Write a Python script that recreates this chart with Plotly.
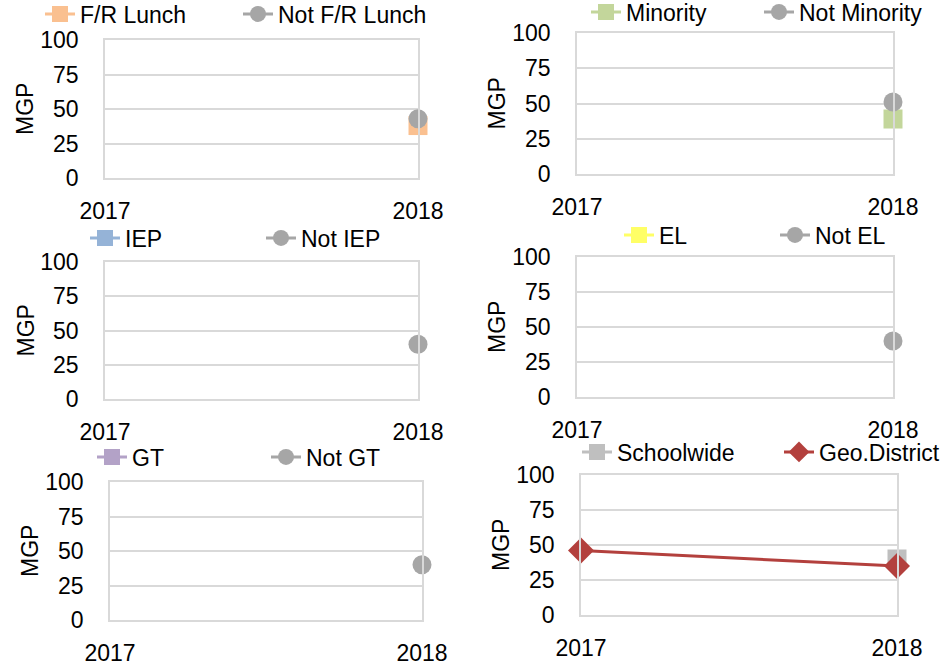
import plotly.graph_objects as go

# Data
years = [2017, 2018]
y_ticks = [0, 25, 50, 75, 100]

fr_lunch = [None, 38]
not_fr_lunch = [None, 43]
minority = [None, 39]
not_minority = [None, 51]
iep = [None, None]
not_iep = [None, 40]
el = [None, None]
not_el = [None, 40]
gt = [None, None]
not_gt = [None, 40]
schoolwide = [None, 40]
geo_district = [46, 35]

W, H = 948, 666
FONT = "Liberation Sans, Arial"
FS = 23
GRAY = "#A6A6A6"
GRID = "#D9D9D9"


def px(x):
    return x / W


def py(y):
    return 1 - y / H


# panel boxes in screen pixels: (left, right, top, bottom)
panels = [
    (105, 418, 40, 178),
    (577, 893, 33, 174),
    (105, 418, 262, 399),
    (577, 893, 257, 397),
    (110, 422, 482, 620),
    (581, 897, 475, 615),
]
# legend placement: (x where first label starts, y centre, label-to-label spacing)
legend_pos = [
    (80, 14, 198),
    (626, 12, 173),
    (125, 238, 176),
    (659, 235, 156),
    (132, 457, 174),
    (617, 452, 202),
]

series = [
    [("F/R Lunch", fr_lunch, "#FAC090", "square"), ("Not F/R Lunch", not_fr_lunch, GRAY, "circle")],
    [("Minority", minority, "#C3D69B", "square"), ("Not Minority", not_minority, GRAY, "circle")],
    [("IEP", iep, "#95B3D7", "square"), ("Not IEP", not_iep, GRAY, "circle")],
    [("EL", el, "#FFFF66", "square"), ("Not EL", not_el, GRAY, "circle")],
    [("GT", gt, "#B3A2C7", "square"), ("Not GT", not_gt, GRAY, "circle")],
    [("Schoolwide", schoolwide, "#BFBFBF", "square"), ("Geo.District", geo_district, "#B3403D", "diamond")],
]

fig = go.Figure()
layout = {}
annotations = []

for i, (box, pos, traces) in enumerate(zip(panels, legend_pos, series)):
    n = "" if i == 0 else str(i + 1)
    left, right, top, bottom = box
    for name, vals, color, sym in traces:
        fig.add_trace(go.Scatter(
            x=years, y=vals, name=name, mode="lines+markers",
            line=dict(color=color, width=3),
            marker=dict(color=color, symbol=sym, size=19 if sym != "diamond" else 20),
            xaxis="x" + n, yaxis="y" + n,
            legend="legend" + n,
            cliponaxis=False,
        ))
    layout["xaxis" + n] = dict(
        domain=[px(left), px(right)], anchor="y" + n,
        range=[2017, 2018], tickvals=years, ticktext=[str(y) for y in years],
        showgrid=False, zeroline=False,
        showline=True, mirror=True, linecolor=GRID, linewidth=1.5,
        ticklabelstandoff=12, tickfont=dict(size=FS, color="#000000", family=FONT),
    )
    layout["yaxis" + n] = dict(
        domain=[py(bottom), py(top)], anchor="x" + n,
        range=[0, 100], tickvals=y_ticks,
        showgrid=True, gridcolor=GRID, gridwidth=1.5, zeroline=False,
        showline=True, mirror=True, linecolor=GRID, linewidth=1.5,
        ticklabelstandoff=20, tickfont=dict(size=FS, color="#000000", family=FONT),
    )
    lx, ly, spacing = pos
    layout["legend" + n] = dict(
        x=px(lx - 40), y=py(ly), xanchor="left", yanchor="middle",
        orientation="h", entrywidth=spacing - 45, entrywidthmode="pixels",
        font=dict(size=FS, color="#000000", family=FONT),
        bgcolor="rgba(0,0,0,0)", itemsizing="trace",
    )
    annotations.append(dict(
        text="MGP", textangle=-90, showarrow=False,
        x=px(left - 80), y=py((top + bottom) / 2),
        xref="paper", yref="paper", xanchor="center", yanchor="middle",
        font=dict(size=FS, color="#000000", family=FONT),
    ))

fig.update_layout(
    width=W, height=H,
    margin=dict(l=0, r=0, t=0, b=0, autoexpand=False),
    paper_bgcolor="white", plot_bgcolor="white",
    showlegend=True,
    annotations=annotations,
    **layout,
)

# drop the default page margin so the figure fills the window exactly
fig.write_html(
    "out.html",
    config={"displayModeBar": False},
    post_script="document.body.style.margin = '0px';",
)
